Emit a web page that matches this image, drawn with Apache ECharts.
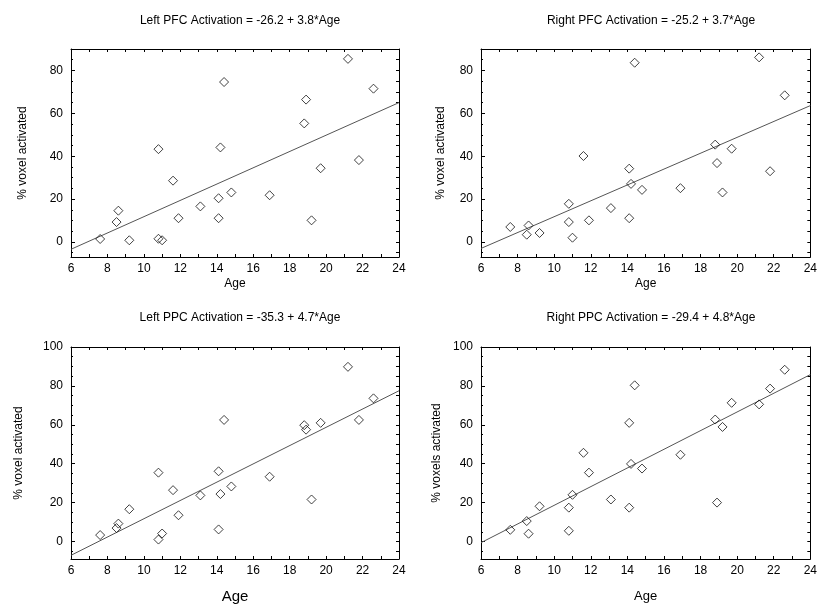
<!DOCTYPE html>
<html>
<head>
<meta charset="utf-8">
<script src="https://cdn.jsdelivr.net/npm/echarts@6/dist/echarts.min.js"></script>
<style>html,body{margin:0;padding:0;background:#fff}#c{width:820px;height:608px}</style>
</head>
<body>
<div id="c"></div>
<script>
// ---- data ----
const ages = [7.6, 8.5, 8.6, 9.2, 10.8, 10.8, 11.0, 11.6, 11.9, 13.1, 14.1, 14.1, 14.2, 14.4, 14.8, 16.9, 18.8, 18.9, 19.2, 19.7, 21.2, 21.8, 22.6];
const leftPFC  = [1.4, 9.3, 14.6, 0.8, 43.3, 1.5, 0.8, 28.6, 11.1, 16.6, 20.4, 11.1, 44.1, 74.6, 23.1, 21.8, 55.3, 66.4, 10.1, 34.4, 85.4, 38.2, 71.5];
const rightPFC = [7.0, 3.4, 7.7, 4.2, 17.8, 9.3, 2.0, 40.1, 10.1, 15.8, 34.2, 11.1, 27.1, 83.6, 24.3, 25.1, 45.4, 36.8, 23.1, 43.5, 86.1, 33.0, 68.4];
const leftPPC  = [3.3, 6.9, 9.2, 16.6, 35.4, 1.0, 4.1, 26.4, 13.5, 23.7, 36.1, 6.2, 24.4, 62.5, 28.3, 33.3, 59.8, 57.5, 21.6, 61.0, 89.8, 62.5, 73.6];
const rightPPC = [6.0, 10.5, 4.0, 18.1, 17.4, 5.5, 24.0, 45.6, 35.4, 21.6, 61.0, 17.4, 39.9, 80.3, 37.5, 44.6, 62.7, 20.0, 58.9, 71.3, 70.5, 78.6, 88.3];
const titles = ['Left PFC Activation = -26.2 + 3.8*Age', 'Right PFC Activation = -25.2 + 3.7*Age', 'Left PPC Activation = -35.3 + 4.7*Age', 'Right PPC Activation = -29.4 + 4.8*Age'];
const intercepts = [-26.2, -25.2, -35.3, -29.4];
const slopes = [3.8, 3.7, 4.7, 4.8];
const yNames = ['% voxel activated', '% voxel activated', '% voxel activated', '% voxels activated'];
const xName = 'Age';
const xMin = 6, xMax = 24;
const xTickLabels = [6, 8, 10, 12, 14, 16, 18, 20, 22, 24];
const yTickLabelsTop = [0, 20, 40, 60, 80];
const yTickLabelsBottom = [0, 20, 40, 60, 80, 100];
const yRangeTop = [-7, 90];
const yRangeBottom = [-9, 100];

// ---- layout / style ----
const series_y = [leftPFC, rightPFC, leftPPC, rightPPC];
const grids = [
  {left: 71, top: 49, width: 328, height: 208},
  {left: 481, top: 49, width: 330, height: 208},
  {left: 71, top: 347, width: 328, height: 212},
  {left: 481, top: 347, width: 330, height: 212}
];
const FONT = '"Liberation Sans", Arial, sans-serif';
const ageFont = [12, 12, 15, 13];
const ageGap = [21, 21, 30, 31];
const yNameGap = [42, 34, 46, 38];

function range(a, b, s) { const r = []; for (let v = a; v <= b + 1e-9; v += s) r.push(v); return r; }

const xAxis = [], yAxis = [], series = [], title = [];
grids.forEach((g, i) => {
  const yr = i < 2 ? yRangeTop : yRangeBottom;
  const yl = i < 2 ? yTickLabelsTop : yTickLabelsBottom;
  const minor = range(Math.ceil(yr[0] / 5) * 5, yr[1], 5);
  const line = {show: true, onZero: false, lineStyle: {color: '#000', width: 1}};
  title.push({
    text: titles[i], left: g.left + g.width / 2, top: i < 2 ? 10 : 307, textAlign: 'center',
    textStyle: {fontFamily: FONT, fontSize: 12, fontWeight: 'normal', color: '#000'}
  });
  // bottom x
  xAxis.push({
    gridIndex: i, type: 'value', min: xMin, max: xMax, interval: 1, position: 'bottom',
    name: xName, nameLocation: 'middle', nameGap: ageGap[i],
    nameTextStyle: {fontFamily: FONT, fontSize: ageFont[i], color: '#000'},
    axisLine: line, splitLine: {show: false},
    axisTick: {inside: true, length: 3, lineStyle: {color: '#000'}},
    axisLabel: {fontFamily: FONT, fontSize: 12, color: '#000', margin: 6,
      customValues: xTickLabels}
  });
  // top x (mirror)
  xAxis.push({
    gridIndex: i, type: 'value', min: xMin, max: xMax, interval: 1, position: 'top',
    axisLine: line, splitLine: {show: false},
    axisTick: {inside: true, length: 3, lineStyle: {color: '#000'}},
    axisLabel: {show: false}
  });
  // left y (labels + major ticks)
  yAxis.push({
    gridIndex: i, type: 'value', min: yr[0], max: yr[1], position: 'left',
    name: yNames[i], nameLocation: 'middle', nameGap: yNameGap[i], nameRotate: 90,
    nameTextStyle: {fontFamily: FONT, fontSize: 12, color: '#000'},
    axisLine: line, splitLine: {show: false},
    axisTick: {inside: true, length: 4, lineStyle: {color: '#000'}, customValues: yl},
    axisLabel: {fontFamily: FONT, fontSize: 12, color: '#000', margin: 8, customValues: yl}
  });
  // left y minor ticks
  yAxis.push({
    gridIndex: i, type: 'value', min: yr[0], max: yr[1], position: 'left', offset: 0,
    axisLine: {show: false, onZero: false}, splitLine: {show: false},
    axisTick: {inside: true, length: 2, lineStyle: {color: '#000'}, customValues: minor},
    axisLabel: {show: false}
  });
  // right y (mirror)
  yAxis.push({
    gridIndex: i, type: 'value', min: yr[0], max: yr[1], position: 'right',
    axisLine: line, splitLine: {show: false},
    axisTick: {inside: true, length: 3, lineStyle: {color: '#000'}, customValues: minor},
    axisLabel: {show: false}
  });
  series.push({
    type: 'line', xAxisIndex: i * 2, yAxisIndex: i * 3, silent: true,
    data: [[xMin, intercepts[i] + slopes[i] * xMin], [xMax, intercepts[i] + slopes[i] * xMax]],
    symbol: 'none', lineStyle: {color: '#555', width: 1}, clip: true, animation: false, z: 1
  });
  series.push({
    type: 'scatter', xAxisIndex: i * 2, yAxisIndex: i * 3,
    data: ages.map((a, k) => [a, series_y[i][k]]),
    symbol: 'diamond', symbolSize: 9,
    itemStyle: {color: 'rgba(255,255,255,0)', borderColor: '#111', borderWidth: 1},
    animation: false, z: 2
  });
});

const chart = echarts.init(document.getElementById('c'), null, {renderer: 'canvas'});
chart.setOption({
  backgroundColor: '#fff', animation: false,
  title, grid: grids, xAxis, yAxis, series
});
</script>
</body>
</html>
